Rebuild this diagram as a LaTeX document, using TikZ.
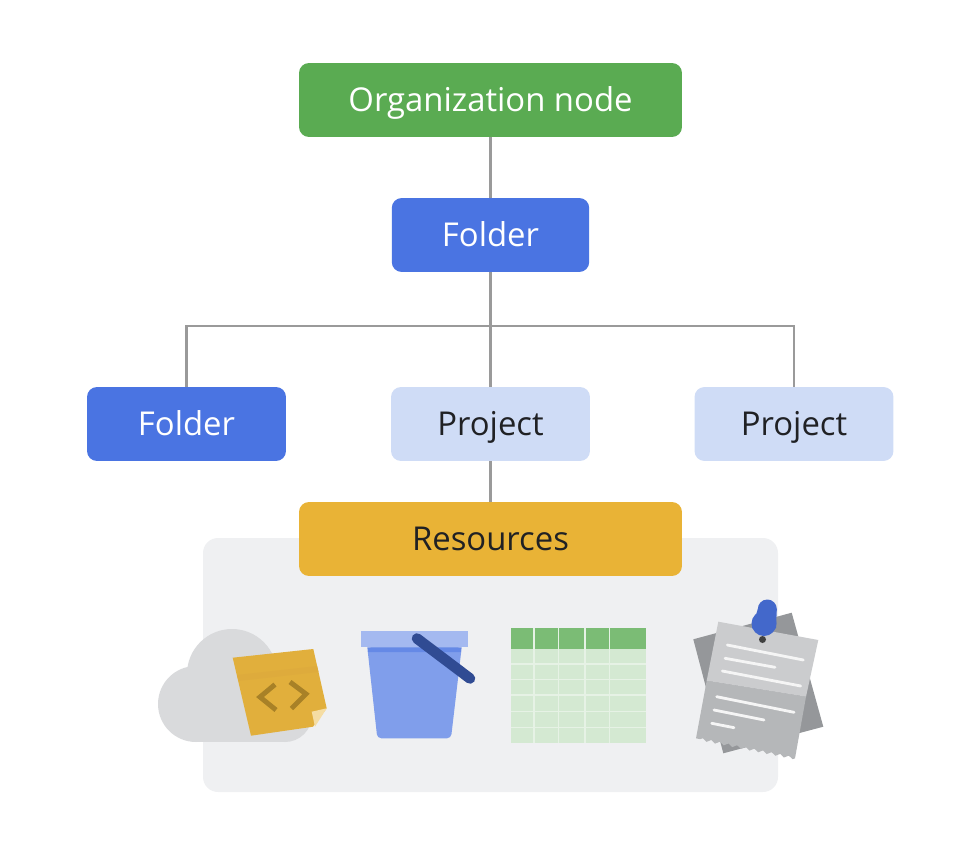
\documentclass[tikz,border=0pt]{standalone}
\usepackage{fontspec}
\setmainfont{Open Sans}
\usetikzlibrary{decorations.pathmorphing}
\definecolor{orggreen}{HTML}{5AAB52}
\definecolor{folderblue}{HTML}{4A74E2}
\definecolor{projectblue}{HTML}{CFDCF6}
\definecolor{resyellow}{HTML}{E9B336}
\definecolor{panelgray}{HTML}{EFF0F2}
\definecolor{linkgray}{HTML}{9A9A9A}
\definecolor{inkdark}{HTML}{202124}
\definecolor{cloudgray}{HTML}{D9DADC}
\definecolor{sheetback}{HTML}{95979A}
\definecolor{sheetlow}{HTML}{B5B7B9}
\definecolor{sheettop}{HTML}{CBCCCE}
\tikzset{
  boxnode/.style={rounded corners=0.2cm, minimum height=1.48cm, inner sep=0pt,
    text height=0.47cm, text depth=0pt, font=\fontsize{18.7pt}{22pt}\selectfont},
  orgbox/.style={boxnode, fill=orggreen, text=white, minimum width=7.66cm},
  folderbox/.style={boxnode, fill=folderblue, text=white, minimum width=3.95cm},
  projectbox/.style={boxnode, fill=projectblue, text=inkdark, minimum width=3.98cm},
  resbox/.style={boxnode, fill=resyellow, text=inkdark, minimum width=7.66cm},
  link/.style={draw=linkgray, line width=1.2pt},
  textline/.style={draw=white!92!gray, line width=1.6pt, line cap=round},
}
\begin{document}
\begin{tikzpicture}[x=0.02cm, y=-0.02cm]
  \useasboundingbox (0,0) rectangle (974,848);
  % panel behind the icons
  \fill[panelgray, rounded corners=0.3cm] (203,538) rectangle (778,792);
  % hierarchy
  \node[orgbox] (org) at (490.5,100) {Organization node};
  \node[folderbox] (folderTop) at (490.5,235) {Folder};
  \node[folderbox, minimum width=3.98cm] (folderLeft) at (186.5,424) {Folder};
  \node[projectbox] (projectMid) at (490.5,424) {Project};
  \node[projectbox] (projectRight) at (794,424) {Project};
  \node[resbox] (res) at (490.5,539) {Resources};
  \coordinate (branch) at (490.5,326);
  \draw[link] (org) -- (folderTop);
  \draw[link] (folderTop) -- (projectMid);
  \draw[link] (folderLeft.north) |- (branch) -| (projectRight.north);
  \draw[link] (projectMid) -- (res);
  % cloud with sticky note
  \fill[cloudgray] (196,704) circle (38);
  \fill[cloudgray] (232,674) circle (45);
  \fill[cloudgray] (285,715) circle (27);
  \fill[cloudgray] (196,690) rectangle (285,742);
  \fill[resyellow!92!gray] (232.7,657.7) -- (313.3,649) -- (326.7,708.3) -- (313,726.7) -- (251,735.7) -- cycle;
  \fill[resyellow!88!gray!95!orange] (237,675) -- (317,666) -- (318.5,672) -- (238.5,681) -- cycle;
  \fill[resyellow!45!white] (311.7,711.7) -- (326.7,708.3) -- (315,726.7) -- cycle;
  \draw[draw=resyellow!72!black, line width=2.8pt] (275,684.5) -- (260,697) -- (276,710);
  \draw[draw=resyellow!72!black, line width=2.8pt] (290,682) -- (306,694) -- (291.5,708.5);
  % bucket
  \fill[folderblue!70!white, rounded corners=0.08cm] (367.3,647.3) -- (461.7,647.3) -- (451,738.3) -- (377.3,738.3) -- cycle;
  \fill[folderblue!85!white] (367.3,647.3) -- (461.7,647.3) -- (461,652) -- (368,652) -- cycle;
  \fill[folderblue!50!white] (360.7,631) rectangle (468.3,647.3);
  \draw[draw=folderblue!65!black, line width=6pt, line cap=round] (417,638.5) -- (470,678.5);
  % table
  \fill[orggreen!26!white] (510.7,649.3) rectangle (645.7,743.3);
  \fill[orggreen!80!white] (510.7,628.3) rectangle (645.7,649.3);
  \foreach \x in {534,558.3,585,609.3}{
    \draw[draw=white!85!orggreen, line width=0.9pt] (\x,628.3) -- (\x,743.3);
  }
  \foreach \y in {664,679.3,695,711.7,727.3}{
    \draw[draw=white!85!orggreen, line width=0.9pt] (510.7,\y) -- (645.7,\y);
  }
  % pinned papers
  \fill[sheetback] (693.3,639.3) -- (791.7,612.7) -- (823.3,726.7) -- (723.3,753.3) -- cycle;
  \fill[sheetlow] (706.7,680.7) -- (806,696.7) -- (795,758.3)
    decorate[decoration={zigzag, segment length=5pt, amplitude=0.8pt}] {-- (696,738.3)} -- cycle;
  \fill[sheettop] (718.3,621.7) -- (818.3,640) -- (806,696.7) -- (706.7,680.7) -- cycle;
  \foreach \xa/\ya/\xb/\yb in {727.3/645/803.3/660,725/658.3/775/667.3,722.3/671/800.7/686,
      716.7/696.7/794/712.3,714/710/764/720,711.7/723.3/734/727.7}{
    \draw[textline] (\xa,\ya) -- (\xb,\yb);
  }
  \fill[black!75] (762.5,639.5) circle (3.5);
  \fill[folderblue!90!black] (764,623.5) circle (12.5);
  \fill[folderblue!90!black] (767.3,609) circle (9.5);
  \fill[folderblue!90!black] (757.8,609) -- (776.8,609) -- (776,628) -- (752,628) -- cycle;
\end{tikzpicture}
\end{document}
